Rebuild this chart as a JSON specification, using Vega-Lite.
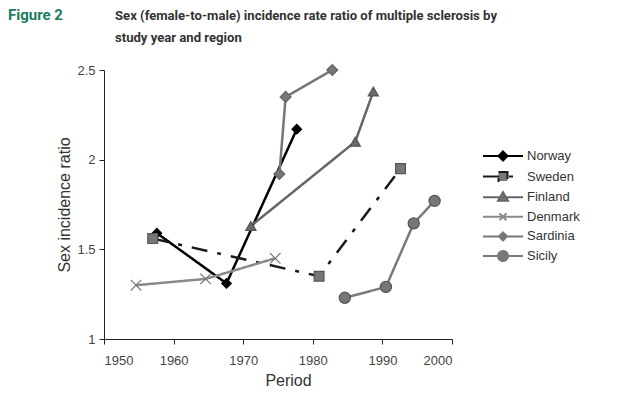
{
  "$schema": "https://vega.github.io/schema/vega-lite/v6.json",
  "width": 348,
  "height": 269,
  "padding": {"left": 8, "top": 8, "right": 5, "bottom": 5},
  "background": "white",
  "config": {"view": {"stroke": null}, "font": "Liberation Sans"},
  "title": {
    "text": ["Sex (female-to-male) incidence rate ratio of multiple sclerosis by", "study year and region"],
    "anchor": "start",
    "frame": "group",
    "dx": 11,
    "offset": -37,
    "font": "Roboto",
    "fontSize": 13.1,
    "fontWeight": "bold",
    "color": "#333333",
    "lineHeight": 22
  },
  "data": {
    "values": [
      {"region": "Norway", "year": 1957.6, "ratio": 1.59},
      {"region": "Norway", "year": 1967.6, "ratio": 1.31},
      {"region": "Norway", "year": 1977.7, "ratio": 2.17},
      {"region": "Sweden", "year": 1957.0, "ratio": 1.56},
      {"region": "Sweden", "year": 1980.9, "ratio": 1.35},
      {"region": "Sweden", "year": 1992.6, "ratio": 1.95},
      {"region": "Finland", "year": 1971.1, "ratio": 1.63},
      {"region": "Finland", "year": 1986.1, "ratio": 2.10},
      {"region": "Finland", "year": 1988.7, "ratio": 2.38},
      {"region": "Denmark", "year": 1954.6, "ratio": 1.30},
      {"region": "Denmark", "year": 1964.6, "ratio": 1.335},
      {"region": "Denmark", "year": 1974.6, "ratio": 1.45},
      {"region": "Sardinia", "year": 1975.2, "ratio": 1.92},
      {"region": "Sardinia", "year": 1976.1, "ratio": 2.35},
      {"region": "Sardinia", "year": 1982.8, "ratio": 2.50},
      {"region": "Sicily", "year": 1984.6, "ratio": 1.23},
      {"region": "Sicily", "year": 1990.5, "ratio": 1.29},
      {"region": "Sicily", "year": 1994.5, "ratio": 1.645},
      {"region": "Sicily", "year": 1997.5, "ratio": 1.77}
    ]
  },
  "layer": [
    {
      "mark": {"type": "line", "strokeWidth": 2.5},
      "encoding": {
        "x": {
          "field": "year", "type": "quantitative",
          "scale": {"domain": [1950, 2000], "nice": false, "zero": false},
          "axis": {
            "values": [1950, 1960, 1970, 1980, 1990, 2000], "format": "d", "grid": false,
            "title": "Period", "titleFontSize": 16, "titleFontWeight": "normal", "titleColor": "#333333", "titlePadding": 5, "titleX": 184,
            "labelFontSize": 13, "labelColor": "#444444", "labelPadding": 10,
            "domainColor": "#222222", "tickColor": "#222222", "tickSize": 5
          }
        },
        "y": {
          "field": "ratio", "type": "quantitative",
          "scale": {"domain": [1, 2.5], "nice": false, "zero": false},
          "axis": {
            "values": [1, 1.5, 2, 2.5], "format": "~g", "grid": false,
            "title": "Sex incidence ratio", "titleFontSize": 16, "titleFontWeight": "normal", "titleColor": "#333333", "titlePadding": 4,
            "labelFontSize": 13, "labelColor": "#444444", "labelPadding": 4,
            "domainColor": "#222222", "tickColor": "#222222", "tickSize": 5
          }
        },
        "color": {
          "field": "region", "type": "nominal",
          "scale": {
            "domain": ["Norway", "Sweden", "Finland", "Denmark", "Sardinia", "Sicily"],
            "range": ["#000000", "#1a1a1a", "#666666", "#8a8a8a", "#777777", "#7a7a7a"]
          },
          "legend": {
            "title": null,
            "orient": "none",
            "legendX": 388,
            "legendY": 75,
            "symbolSize": 400,
            "symbolStrokeWidth": 2,
            "rowPadding": 0.6,
            "labelOffset": 13,
            "labelFontSize": 13,
            "labelColor": "#333333",
            "encoding": {
              "symbols": {
                "shape": {"value": {"expr": "datum.value === 'Norway' ? 'M-2,0L2,0M0,-0.45L0.45,0L0,0.45L-0.45,0Z' : datum.value === 'Sweden' ? 'M-2,0L2,0M-0.45,-0.45L0.45,-0.45L0.45,0.45L-0.45,0.45Z' : datum.value === 'Finland' ? 'M-2,0L2,0M0,-0.5L0.5,0.35L-0.5,0.35Z' : datum.value === 'Denmark' ? 'M-2,0L2,0M-0.35,-0.35L0.35,0.35M-0.35,0.35L0.35,-0.35' : datum.value === 'Sardinia' ? 'M-2,0L2,0M0,-0.4L0.4,0L0,0.4L-0.4,0Z' : 'M-2,0L2,0M-0.5,0A0.5,0.5,0,1,0,0.5,0A0.5,0.5,0,1,0,-0.5,0Z'"}},
                "fill": {"value": {"expr": "datum.value === 'Norway' ? '#000000' : datum.value === 'Denmark' ? 'transparent' : '#777777'"}},
                "strokeDash": {"value": {"expr": "datum.value === 'Sweden' ? [16, 10, 4, 10] : [1, 0]"}},
                "strokeWidth": {"value": 2}
              }
            }
          }
        },
        "strokeDash": {
          "field": "region", "type": "nominal",
          "scale": {
            "domain": ["Sicily", "Sardinia", "Denmark", "Finland", "Sweden", "Norway"],
            "range": [[1, 0], [1, 0], [1, 0], [1, 0], [16, 10, 4, 10], [1, 0]]
          },
          "legend": null
        },
        "opacity": {
          "field": "region", "type": "nominal",
          "scale": {
            "domain": ["Denmark", "Finland", "Norway", "Sardinia", "Sicily", "Sweden"],
            "range": [1, 1, 1, 1, 1, 1]
          },
          "legend": {
            "values": [],
            "title": "Figure 2",
            "orient": "none",
            "legendX": -96,
            "legendY": -62,
            "padding": 0,
            "titlePadding": 0,
            "titleFont": "Roboto",
            "titleFontSize": 15,
            "titleFontWeight": "bold",
            "titleColor": "#1b7c64"
          }
        }
      }
    },
    {
      "mark": {"type": "point", "filled": true, "opacity": 1, "strokeWidth": 1.2},
      "encoding": {
        "x": {"field": "year", "type": "quantitative"},
        "y": {"field": "ratio", "type": "quantitative"},
        "fill": {
          "field": "region", "type": "nominal",
          "scale": {
            "domain": ["Sicily", "Sardinia", "Denmark", "Finland", "Sweden", "Norway"],
            "range": ["#777777", "#777777", "#888888", "#6a6a6a", "#777777", "#000000"]
          },
          "legend": null
        },
        "stroke": {
          "field": "region", "type": "nominal",
          "scale": {
            "domain": ["Sicily", "Sardinia", "Denmark", "Finland", "Sweden", "Norway"],
            "range": ["#555555", "#666666", "#777777", "#555555", "#555555", "#000000"]
          },
          "legend": null
        },
        "shape": {
          "field": "region", "type": "nominal",
          "scale": {
            "domain": ["Sicily", "Sardinia", "Denmark", "Finland", "Sweden", "Norway"],
            "range": ["circle", "diamond", "M-1,-1L1,1M-1,1L1,-1", "triangle-up", "square", "diamond"]
          },
          "legend": null
        },
        "size": {
          "field": "region", "type": "nominal",
          "scale": {
            "domain": ["Sicily", "Sardinia", "Denmark", "Finland", "Sweden", "Norway"],
            "range": [125, 90, 150, 160, 150, 110]
          },
          "legend": null
        }
      }
    }
  ]
}
